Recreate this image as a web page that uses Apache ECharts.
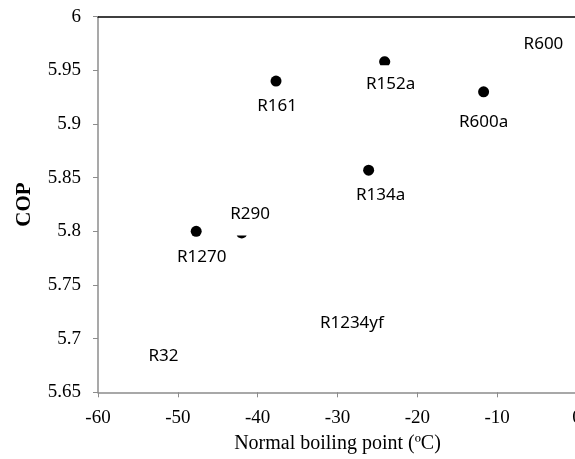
<!DOCTYPE html>
<html><head><meta charset="utf-8">
<script src="https://cdn.jsdelivr.net/npm/echarts@6/dist/echarts.min.js"></script>
<style>html,body{margin:0;padding:0;background:#fff}#c{width:575px;height:459px}</style>
</head><body><div id="c"></div>
<script>
// Refrigerant data
var refrigerants = ['R1270', 'R290', 'R161', 'R152a', 'R134a', 'R600a', 'R600', 'R32', 'R1234yf'];
var boilingPoint = [-47.7, -42.0, -37.7, -24.1, -26.1, -11.7, -4.2, -51.8, -28.2];
var cop = [5.800, 5.799, 5.940, 5.958, 5.857, 5.930, 5.998, 5.707, 5.738];
var xTicks = [-60, -50, -40, -30, -20, -10, 0];
var yTicks = [5.65, 5.7, 5.75, 5.8, 5.85, 5.9, 5.95, 6];

// ---- styling per point (not data) ----
var hiddenMarker = {R600: true, R32: true, R1234yf: true};
// markers partly hidden behind label boxes in the original
var symbolStyle = {
  R152a: {symbol: 'path://M-7.68,6.4A10,10 0 1 1 7.68,6.4Z', size: [11, 9], offset: [0, -1]},
  R290: {symbol: 'path://M-9,4.36A10,10 0 0 0 9,4.36Z', size: [10, 3], offset: [0, 4.5]}
};
var labelOffset = {
  R161: [1, 25], R152a: [6, 23], R600a: [0, 30], R134a: [12, 25],
  R1270: [5.5, 25.7], R290: [8.3, -22.5]
};

var data = refrigerants.map(function (n, i) {
  var item = {
    value: [boilingPoint[i], cop[i]],
    name: n,
    label: {offset: labelOffset[n] || [0, 25]}
  };
  if (hiddenMarker[n]) item.symbolSize = 0;
  var s = symbolStyle[n];
  if (s) { item.symbol = s.symbol; item.symbolSize = s.size; item.symbolOffset = s.offset; item.symbolKeepAspect = false; }
  return item;
});

var chart = echarts.init(document.getElementById('c'));
chart.setOption({
  animation: false,
  grid: {left: 98, right: -2, top: 16.7, bottom: 66.7, containLabel: false, outerBoundsMode: 'none'},
  xAxis: [{
    type: 'value', min: -60, max: 0, interval: 10,
    axisLine: {onZero: false, lineStyle: {color: '#8c8c8c', width: 1.5}},
    axisTick: {show: true, length: 5, lineStyle: {color: '#8c8c8c'}},
    splitLine: {show: false},
    axisLabel: {fontFamily: 'Liberation Serif', fontSize: 19, color: '#000', margin: 16, hideOverlap: false},
    name: 'Normal boiling point (ºC)', nameLocation: 'middle', nameGap: 41,
    nameTextStyle: {fontFamily: 'Liberation Serif', fontSize: 20, color: '#000'}
  }, {
    type: 'value', position: 'top', min: -60, max: 0,
    axisLine: {show: true, onZero: false, lineStyle: {color: '#000', width: 1.5}},
    axisTick: {show: false}, axisLabel: {show: false}, splitLine: {show: false}
  }],
  yAxis: {
    type: 'value', min: 5.65, max: 6, interval: 0.05,
    axisLine: {show: true, onZero: false, lineStyle: {color: '#8c8c8c', width: 1.5}},
    axisTick: {show: true, length: 5, lineStyle: {color: '#8c8c8c'}},
    splitLine: {show: false},
    axisLabel: {fontFamily: 'Liberation Serif', fontSize: 19, color: '#000', margin: 17,
      formatter: function (v) { return String(parseFloat(v.toFixed(2))); }},
    name: 'COP', nameLocation: 'middle', nameGap: 63,
    nameTextStyle: {fontFamily: 'Liberation Serif', fontSize: 21, fontWeight: 'bold', color: '#000'}
  },
  series: [{
    type: 'scatter',
    data: data,
    symbol: 'circle',
    symbolSize: 11,
    itemStyle: {color: '#000', opacity: 1},
    label: {
      show: true, position: 'inside', formatter: '{b}',
      fontFamily: 'Noto Sans', fontSize: 17, color: '#000'
    }
  }]
});
</script></body></html>
